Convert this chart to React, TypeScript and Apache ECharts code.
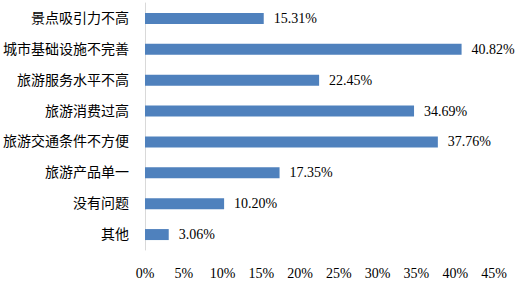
import React, { useEffect, useRef } from "react";
import * as echarts from "echarts";

const categories = [
  "景点吸引力不高",
  "城市基础设施不完善",
  "旅游服务水平不高",
  "旅游消费过高",
  "旅游交通条件不方便",
  "旅游产品单一",
  "没有问题",
  "其他",
];
const values = [15.31, 40.82, 22.45, 34.69, 37.76, 17.35, 10.2, 3.06];
const xTicks = { min: 0, max: 45, interval: 5 };

const FONT = '"Liberation Serif", "Times New Roman", "Noto Sans CJK SC", serif';

export default function App() {
  const ref = useRef<HTMLDivElement>(null);
  useEffect(() => {
    if (!ref.current) return;
    const chart = echarts.init(ref.current, null, { renderer: "svg" });
    chart.setOption({
      animation: false,
      grid: { left: 144, right: 25, top: 3, bottom: 36, containLabel: false },
      xAxis: {
        type: "value",
        min: xTicks.min,
        max: xTicks.max,
        interval: xTicks.interval,
        axisLine: { show: false },
        axisTick: { show: false },
        splitLine: { show: false },
        axisLabel: {
          formatter: "{value}%",
          color: "#000",
          fontSize: 14,
          fontFamily: FONT,
          margin: 16,
        },
      },
      yAxis: {
        type: "category",
        data: categories,
        inverse: true,
        axisLine: { show: true, lineStyle: { color: "#d9d9d9", width: 1 } },
        axisTick: { show: false },
        axisLabel: {
          color: "#000",
          fontSize: 14,
          fontFamily: FONT,
          margin: 16,
        },
      },
      series: [
        {
          type: "bar",
          data: values,
          barWidth: 11,
          itemStyle: { color: "#4F81BD" },
          label: {
            show: true,
            position: "right",
            distance: 10,
            formatter: (p: any) => p.value.toFixed(2) + "%",
            color: "#000",
            fontSize: 14,
            fontFamily: FONT,
          },
        },
      ],
    });
    return () => chart.dispose();
  }, []);
  return <div ref={ref} style={{ width: 519, height: 286, position: "absolute", left: 0, top: 0 }} />;
}
